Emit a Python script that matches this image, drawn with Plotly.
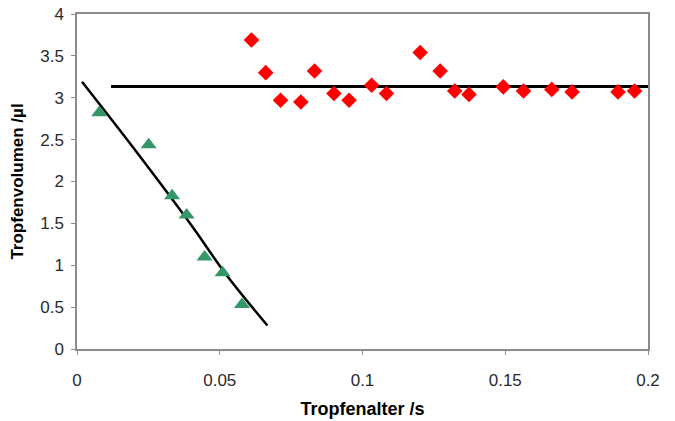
import plotly.graph_objects as go

# Green triangles (decreasing branch)
tri_x = [0.0078, 0.0251, 0.0333, 0.0384, 0.0447, 0.0510, 0.0578]
tri_y = [2.82, 2.44, 1.83, 1.60, 1.10, 0.91, 0.53]

# Red diamonds (plateau)
dia_x = [0.0611, 0.0661, 0.0713, 0.0784, 0.0832, 0.0900, 0.0953, 0.1032, 0.1084,
         0.1202, 0.1272, 0.1323, 0.1373, 0.1493, 0.1564, 0.1663, 0.1734, 0.1895, 0.1953]
dia_y = [3.69, 3.30, 2.97, 2.95, 3.32, 3.05, 2.97, 3.15, 3.05,
         3.54, 3.32, 3.08, 3.04, 3.13, 3.08, 3.10, 3.07, 3.07, 3.08]

# Fitted curve
fit_x = [0.00175, 0.02, 0.04, 0.052, 0.0667]
fit_y = [3.19, 2.39, 1.48, 0.90, 0.28]

# Mean level line
mean_x = [0.0119, 0.2]
mean_y = [3.135, 3.135]

x_ticks = [0, 0.05, 0.1, 0.15, 0.2]
x_labels = ["0", "0.05", "0.1", "0.15", "0.2"]
y_ticks = [0, 0.5, 1, 1.5, 2, 2.5, 3, 3.5, 4]
y_labels = ["0", "0.5", "1", "1.5", "2", "2.5", "3", "3.5", "4"]

FONT = "Liberation Sans, Arial"

fig = go.Figure()
fig.add_trace(go.Scatter(x=fit_x, y=fit_y, mode="lines",
                         line=dict(color="black", width=2.5, shape="spline", smoothing=1.0),
                         showlegend=False))
fig.add_trace(go.Scatter(x=mean_x, y=mean_y, mode="lines",
                         line=dict(color="black", width=3),
                         showlegend=False))
fig.add_trace(go.Scatter(x=tri_x, y=tri_y, mode="markers",
                         marker=dict(symbol="triangle-up", size=14, color="#33976a"),
                         showlegend=False))
fig.add_trace(go.Scatter(x=dia_x, y=dia_y, mode="markers",
                         marker=dict(symbol="diamond", size=12, color="#ff0000"),
                         showlegend=False))

axis_common = dict(showgrid=False, zeroline=False, showline=True, linecolor="#8c8c8c",
                   linewidth=1.5, mirror=True, ticks="outside", ticklen=4,
                   tickcolor="#8c8c8c", automargin=False,
                   tickfont=dict(family=FONT, size=17, color="#2a2a2a"))

fig.update_layout(
    width=675, height=421,
    margin=dict(l=77, r=27, t=14, b=72),
    plot_bgcolor="white", paper_bgcolor="white",
    xaxis=dict(range=[0, 0.2], tickvals=x_ticks, ticktext=x_labels,
               ticklabelstandoff=11,
               title=dict(text="<b>Tropfenalter /s</b>", standoff=13,
                          font=dict(family=FONT, size=18, color="black")),
               **axis_common),
    yaxis=dict(range=[0, 4], tickvals=y_ticks, ticktext=y_labels,
               ticklabelstandoff=4,
               title=dict(text="<b>Tropfenvolumen /µl</b>", standoff=12,
                          font=dict(family=FONT, size=17, color="black")),
               **axis_common),
)

fig.write_html("out.html", config={"displayModeBar": False},
               post_script="document.body.style.margin='0px';document.body.style.overflow='hidden';")
